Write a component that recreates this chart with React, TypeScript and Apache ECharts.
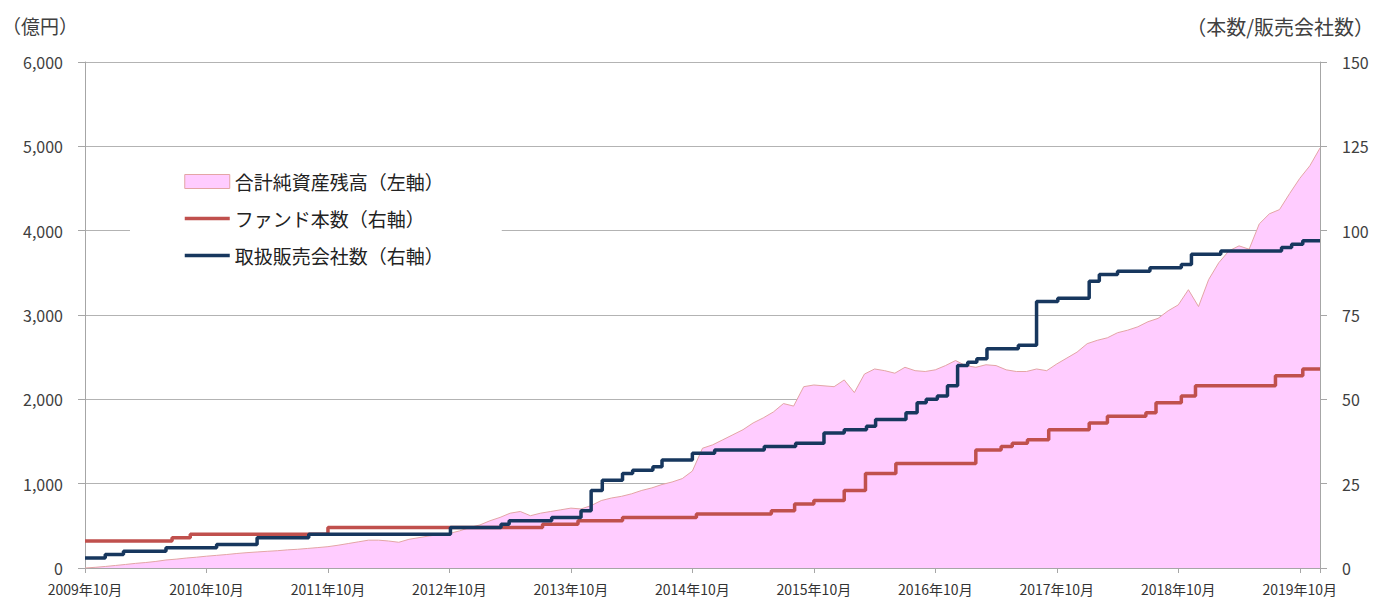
import React, { useEffect, useRef } from "react";
import * as echarts from "echarts";

// x = months since 2009年10月 (0 .. 122 = 2019年12月)
const X_MAX = 122;
const yearLabelsStart = 2009;

// 合計純資産残高 (億円), monthly from 2009-10
const aumMonthly: number[] = [
  0, 8, 18, 30, 42, 55, 65, 78, 95, 105, 118, 128,
  140, 150, 160, 172, 182, 190, 198, 205, 215, 222, 232, 242,
  253, 270, 290, 310, 330, 330, 320, 305, 340, 360, 380, 395,
  410, 440, 480, 510, 560, 600, 650, 670, 620, 650, 670, 690,
  710, 700, 740, 800, 830, 850, 880, 920, 950, 990, 1020, 1060,
  1150, 1420, 1460, 1520, 1580, 1640, 1720, 1780, 1850, 1950, 1920, 2150,
  2170, 2160, 2150, 2230, 2080, 2300, 2360, 2340, 2310, 2380, 2340, 2330,
  2350, 2400, 2460, 2400, 2380, 2410, 2400, 2350, 2330, 2330, 2360, 2340,
  2420, 2490, 2560, 2660, 2700, 2730, 2790, 2820, 2860, 2920, 2960, 3050,
  3120, 3300, 3100, 3420, 3620, 3760, 3820, 3780, 4080, 4200, 4250, 4440,
  4620, 4770, 4980,
];

// ファンド本数: [monthOffset, count]
const fundCount: [number, number][] = [
  [0, 8], [8.6, 9], [10.4, 10], [24.0, 12], [45.2, 13], [48.7, 14], [53.1, 15],
  [60.4, 16], [67.8, 17], [70.1, 19], [72.0, 20], [75.0, 23], [77.1, 28],
  [80.1, 31], [88.0, 35], [90.5, 36], [91.6, 37], [93.1, 38], [95.2, 41],
  [99.2, 43], [101.0, 45], [104.8, 46], [105.8, 49], [108.3, 51], [109.7, 54],
  [117.6, 57], [120.3, 59], [122, 59],
];

// 取扱販売会社数: [monthOffset, count]
const distributorCount: [number, number][] = [
  [0, 3], [2.0, 4], [3.8, 5], [8.0, 6], [13.0, 7], [17.0, 9], [22.1, 10],
  [36.1, 12], [41.1, 13], [41.9, 14], [46.1, 15], [49.0, 17], [50.0, 23],
  [51.1, 26], [53.1, 28], [54.1, 29], [56.1, 30], [57.0, 32], [60.0, 34],
  [62.2, 35], [67.1, 36], [70.2, 37], [73.0, 40], [75.0, 41], [77.2, 42],
  [78.1, 44], [81.1, 46], [82.2, 49], [83.1, 50], [84.2, 51], [85.2, 54],
  [86.2, 60], [87.2, 61], [88.1, 62], [89.1, 65], [92.2, 66], [94.0, 79],
  [96.1, 80], [99.2, 85], [100.2, 87], [102.0, 88], [105.2, 89], [108.3, 90],
  [109.3, 93], [112.2, 94], [118.2, 95], [119.2, 96], [120.3, 97], [122, 97],
];

const NAME_AUM = "合計純資産残高（左軸）";
const NAME_FUND = "ファンド本数（右軸）";
const NAME_DIST = "取扱販売会社数（右軸）";

const FONT = "'Noto Sans CJK JP', 'Noto Sans', sans-serif";
const RED = "#c0504d";
const NAVY = "#17375e";

export default function App() {
  const ref = useRef<HTMLDivElement>(null);
  useEffect(() => {
    document.body.style.margin = "0";
    if (!ref.current) return;
    const chart = echarts.init(ref.current, undefined, { renderer: "svg" });
    const axisGray = "#a6a6a6";
    const hiddenSymbol = {
      color: "rgba(0,0,0,0)",
      borderColor: "rgba(0,0,0,0)",
      borderWidth: 0,
      opacity: 0,
    };
    chart.setOption({
      animation: false,
      backgroundColor: "#ffffff",
      textStyle: { fontFamily: FONT },
      grid: { left: 85, right: 55, top: 62, bottom: 31, containLabel: false },
      graphic: [
        {
          type: "text",
          left: 2,
          top: 16,
          style: { text: "（億円）", fontSize: 19, fill: "#404040", fontFamily: FONT },
        },
        {
          type: "text",
          right: 1,
          top: 16,
          style: { text: "（本数/販売会社数）", fontSize: 20, fill: "#404040", fontFamily: FONT },
        },
      ],
      legend: {
        orient: "vertical",
        left: 130,
        top: 160,
        padding: [12, 58, 12, 53],
        backgroundColor: "#ffffff",
        itemWidth: 45,
        itemHeight: 14,
        itemGap: 18,
        selectedMode: false,
        textStyle: { fontSize: 19, color: "#222222", fontFamily: FONT },
        data: [
          {
            name: NAME_AUM,
            icon: "rect",
            itemStyle: { color: "#ffccff", borderColor: "#e3a5a5", borderWidth: 1 },
          },
          { name: NAME_FUND, itemStyle: hiddenSymbol, lineStyle: { color: RED, width: 3.5 } },
          { name: NAME_DIST, itemStyle: hiddenSymbol, lineStyle: { color: NAVY, width: 3.5 } },
        ],
      },
      xAxis: {
        type: "value",
        min: 0,
        max: X_MAX,
        interval: 12,
        axisLine: { show: true, lineStyle: { color: axisGray, width: 1 } },
        axisTick: { show: true, length: 5, lineStyle: { color: axisGray } },
        splitLine: { show: false },
        axisLabel: {
          fontSize: 14,
          color: "#333333",
          margin: 14,
          fontFamily: FONT,
          formatter: (v: number) =>
            v % 12 === 0 ? `${yearLabelsStart + v / 12}年10月` : "",
        },
      },
      yAxis: [
        {
          type: "value",
          min: 0,
          max: 6000,
          interval: 1000,
          axisLine: { show: true, lineStyle: { color: axisGray } },
          axisTick: { show: true, length: 7, lineStyle: { color: axisGray } },
          splitLine: { show: true, lineStyle: { color: "#b3b3b3", width: 1 } },
          axisLabel: {
            fontSize: 16,
            color: "#404040",
            margin: 22,
            fontFamily: FONT,
            formatter: (v: number) => v.toLocaleString("en-US"),
          },
        },
        {
          type: "value",
          position: "right",
          min: 0,
          max: 150,
          interval: 25,
          axisLine: { show: true, lineStyle: { color: axisGray } },
          axisTick: { show: true, length: 7, lineStyle: { color: axisGray } },
          splitLine: { show: false },
          axisLabel: { fontSize: 16, color: "#404040", margin: 22, fontFamily: FONT },
        },
      ],
      series: [
        {
          name: NAME_AUM,
          type: "line",
          yAxisIndex: 0,
          symbol: "none",
          data: aumMonthly.map((v, i) => [i, v]),
          lineStyle: { color: "#e3a5a5", width: 1 },
          itemStyle: { color: "#ffccff" },
          areaStyle: { color: "#ffccff", opacity: 1 },
          z: 1,
        },
        {
          name: NAME_FUND,
          type: "line",
          step: "end",
          yAxisIndex: 1,
          symbol: "none",
          data: fundCount,
          lineStyle: { color: RED, width: 3.5 },
          itemStyle: { color: RED },
          z: 2,
        },
        {
          name: NAME_DIST,
          type: "line",
          step: "end",
          yAxisIndex: 1,
          symbol: "none",
          data: distributorCount,
          lineStyle: { color: NAVY, width: 3.5 },
          itemStyle: { color: NAVY },
          z: 3,
        },
      ],
    });
    return () => chart.dispose();
  }, []);
  return <div ref={ref} style={{ width: 1375, height: 599 }} />;
}
